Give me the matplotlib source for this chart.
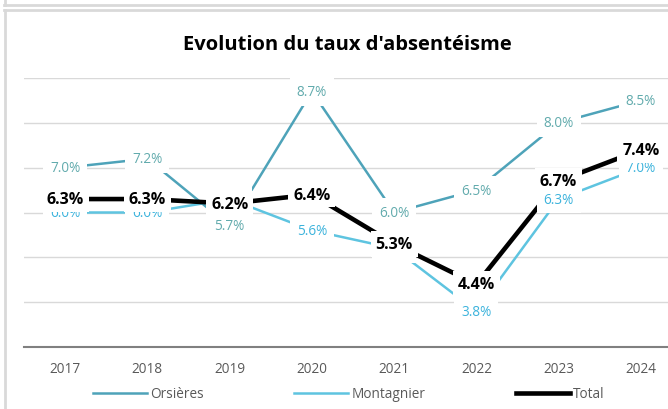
import matplotlib.pyplot as plt
from matplotlib.lines import Line2D

# donnees
annees = ['2017', '2018', '2019', '2020', '2021', '2022', '2023', '2024']
orsieres = [7.0, 7.2, 5.7, 8.7, 6.0, 6.5, 8.0, 8.5]
montagnier = [6.0, 6.0, 6.3, 5.6, 5.2, 3.8, 6.3, 7.0]
total = [6.3, 6.3, 6.2, 6.4, 5.3, 4.4, 6.7, 7.4]

c_ors = '#4ea3b9'
c_ors_txt = '#62abad'
c_mon = '#5ec4e0'
c_mon_txt = '#3cb3dc'

plt.rcParams['font.family'] = ['Open Sans', 'DejaVu Sans']

fig = plt.figure(figsize=(6.68, 4.10), dpi=100)
ax = fig.add_axes([24 / 668, 1 - 348 / 410, 658 / 668, 269 / 410])

x = list(range(len(annees)))
ax.plot(x, orsieres, color=c_ors, lw=1.8, zorder=2, solid_capstyle='butt')
ax.plot(x, montagnier, color=c_mon, lw=1.8, zorder=2.1, solid_capstyle='butt')
ax.plot(x, total, color='black', lw=3.3, zorder=2.2, solid_capstyle='butt')

box = dict(boxstyle='square,pad=0.5', fc='white', ec='none')
for i in x:
    ax.text(i, orsieres[i], f'{orsieres[i]:.1f}%', ha='center', va='center',
            fontsize=9.8, color=c_ors_txt, bbox=box, zorder=3, clip_on=False)
    ax.text(i, montagnier[i], f'{montagnier[i]:.1f}%', ha='center', va='center',
            fontsize=9.8, color=c_mon_txt, bbox=box, zorder=3.1, clip_on=False)
    ax.text(i, total[i], f'{total[i]:.1f}%', ha='center', va='center',
            fontsize=11.5, fontweight='bold', color='black',
            bbox=dict(boxstyle='square,pad=0.3', fc='white', ec='none'),
            zorder=3.2, clip_on=False)

ax.set_xlim(-0.5, 7.5)
ax.set_ylim(3, 9)
ax.set_yticks(range(3, 10))
ax.set_yticklabels([])
ax.set_xticks(x)
ax.set_xticklabels(annees, fontsize=9.8, color='#595959')
ax.tick_params(axis='both', length=0)
ax.tick_params(axis='x', pad=10)
ax.grid(axis='y', color='#d9d9d9', lw=1)
ax.set_axisbelow(True)
for s in ['top', 'right', 'left']:
    ax.spines[s].set_visible(False)
ax.spines['bottom'].set_color('#808080')
ax.spines['bottom'].set_linewidth(1.5)

fig.text(0.52, 1 - 45 / 410, "Evolution du taux d'absentéisme", ha='center', va='center',
         fontsize=14.5, fontweight='bold', color='black')

handles = [Line2D([], [], color=c_ors, lw=1.8),
           Line2D([], [], color=c_mon, lw=1.8),
           Line2D([], [], color='black', lw=3.3)]
fig.legend(handles, ['Orsières', 'Montagnier', 'Total'], loc='center',
           bbox_to_anchor=(0.522, 1 - 395 / 410), ncol=3, frameon=False,
           fontsize=9.8, labelcolor='#595959', handlelength=4.0,
           handletextpad=0.25, columnspacing=6.6, borderpad=0)

# cadres
fig.add_artist(Line2D([4.5 / 668, 4.5 / 668], [0, 1 - 11 / 410], color='#d9d9d9', lw=2))
fig.add_artist(Line2D([4 / 668, 1], [1 - 11 / 410, 1 - 11 / 410], color='#d9d9d9', lw=2))
fig.add_artist(Line2D([4 / 668, 1], [1 - 6 / 410, 1 - 6 / 410], color='#d9d9d9', lw=2))
fig.add_artist(Line2D([4.5 / 668, 4.5 / 668], [1 - 6 / 410, 1], color='#d9d9d9', lw=2))

fig.savefig('out.png', dpi=100)
